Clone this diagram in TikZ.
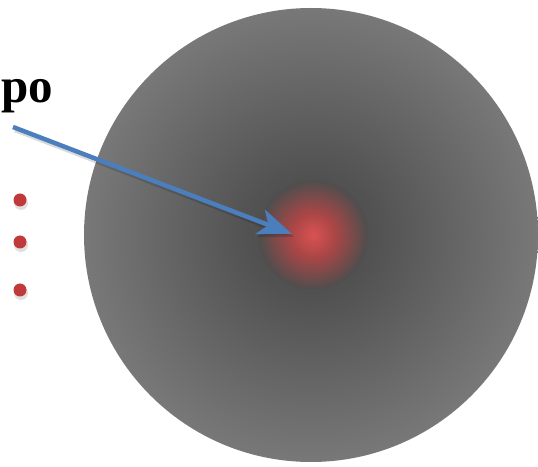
\documentclass[tikz,border=0pt]{standalone}
\usepackage{fontspec}
\setmainfont{Liberation Serif}
\usetikzlibrary{arrows.meta}
\definecolor{arrowblue}{RGB}{74,126,189}
\definecolor{dotred}{RGB}{192,57,59}
\definecolor{gc}{RGB}{74,74,74}
\definecolor{gm}{RGB}{82,82,82}
\definecolor{ge}{RGB}{120,120,120}
\definecolor{rc}{RGB}{218,82,82}
\definecolor{rm}{RGB}{170,70,70}
\definecolor{rg}{RGB}{78,78,78}
\pgfdeclareradialshading{bigball}{\pgfpoint{0bp}{0bp}}{color(0bp)=(gc); color(7bp)=(gm); color(25bp)=(ge); color(50bp)=(ge)}
\pgfdeclareradialshading{glow}{\pgfpoint{0bp}{0bp}}{color(0bp)=(rc); color(10bp)=(rm); color(25bp)=(rg); color(50bp)=(rg)}
\tikzset{
  ball/.style={shading=bigball},
  glowball/.style={shading=glow},
  reddot/.style={circle, fill=dotred, minimum size=13pt, inner sep=0pt},
  dotshadow/.style={circle, fill=black, opacity=0.12, minimum size=14pt, inner sep=0pt},
  pointer/.style={draw=arrowblue, line width=4.5pt, -{Stealth[length=34pt,width=26pt,inset=9pt]}},
  pointershadow/.style={draw=black, opacity=0.15, line width=4.5pt, -{Stealth[length=34pt,width=26pt,inset=9pt]}},
  label/.style={font=\fontsize{49}{49}\selectfont\bfseries, inner sep=0pt}
}
\begin{document}
\begin{tikzpicture}[x=1pt,y=1pt]
\useasboundingbox (0,0) rectangle (538,466);
% big gray sphere
\shade[ball] (311,231) circle (227);
% red glow
\shade[glowball] (313,231) circle (55);
\coordinate (glowc) at (313,231);
% text
\node[label, anchor=base west] (word) at (1,363) {po};
% arrow
\coordinate (start) at (13,339);
\coordinate (tip) at (292,232);
\coordinate (starts) at (15,336);
\coordinate (tips) at (294,229);
\draw[pointershadow] (starts) -- (tips);
\draw[pointer] (start) -- (tip);
% dots
\node[dotshadow] (s1) at (21,263) {};
\node[dotshadow] (s2) at (21,221) {};
\node[dotshadow] (s3) at (21,173) {};
\node[reddot] (d1) at (20,266) {};
\node[reddot] (d2) at (20,224) {};
\node[reddot] (d3) at (20,176) {};
\end{tikzpicture}
\end{document}
